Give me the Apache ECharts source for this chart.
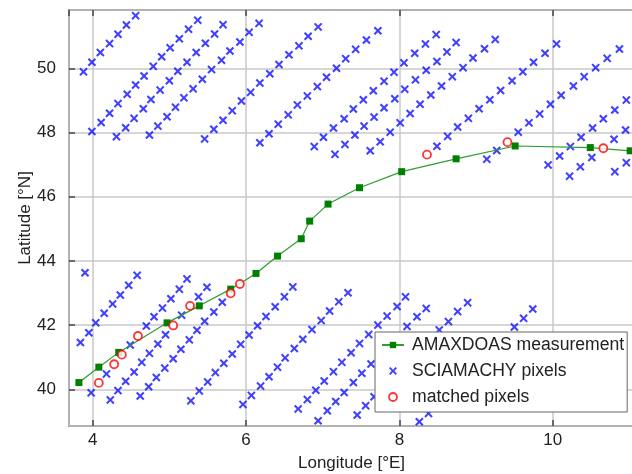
<!DOCTYPE html>
<html><head><meta charset="utf-8">
<script src="https://cdn.jsdelivr.net/npm/echarts@6/dist/echarts.min.js"></script>
<style>html,body{margin:0;padding:0;background:#fff}#c{width:632px;height:474px}</style>
</head><body><div id="c"></div><script>
// AMAXDOAS measurement track
const amaxLon = [3.82,4.08,4.34,4.97,5.39,5.80,6.13,6.41,6.72,6.83,7.07,7.48,8.03,8.74,9.51,10.49,11.01];
const amaxLat = [40.21,40.69,41.15,42.07,42.60,43.12,43.61,44.15,44.69,45.24,45.77,46.28,46.78,47.18,47.58,47.53,47.43];
// matched pixels
const matchedLon = [4.08,4.28,4.38,4.59,5.05,5.27,5.80,5.92,8.36,9.41,10.66];
const matchedLat = [40.20,40.78,41.08,41.66,41.99,42.60,42.99,43.28,47.31,47.70,47.51];
// SCIAMACHY pixels, one array per scan line [lon, lat]
const scanA = [[3.88,49.89],[3.99,50.19],[4.10,50.49],[4.22,50.77],[4.33,51.06],[4.44,51.35],[4.56,51.64]];
const scanB = [[3.99,48.03],[4.11,48.31],[4.22,48.60],[4.33,48.90],[4.45,49.19],[4.56,49.48],[4.67,49.76],[4.79,50.06],[4.90,50.36],[5.01,50.64],[5.13,50.92],[5.25,51.22],[5.37,51.50]];
const scanC = [[4.31,47.87],[4.43,48.15],[4.54,48.44],[4.66,48.74],[4.76,49.03],[4.88,49.32],[5.00,49.61],[5.11,49.91],[5.23,50.19],[5.35,50.49],[5.47,50.78],[5.59,51.07],[5.70,51.36]];
const scanD = [[4.74,47.92],[4.85,48.20],[4.97,48.49],[5.08,48.79],[5.19,49.08],[5.31,49.36],[5.43,49.66],[5.55,49.96],[5.68,50.25],[5.79,50.54],[5.92,50.82],[6.04,51.12],[6.17,51.40]];
const scanE = [[5.46,47.80],[5.58,48.10],[5.70,48.38],[5.82,48.68],[5.94,48.98],[6.06,49.25],[6.18,49.54],[6.31,49.83],[6.43,50.12],[6.56,50.42],[6.69,50.70],[6.81,51.00],[6.94,51.29]];
const scanF = [[6.18,47.68],[6.30,47.96],[6.42,48.26],[6.55,48.55],[6.67,48.86],[6.80,49.14],[6.93,49.43],[7.05,49.72],[7.18,50.00],[7.30,50.30],[7.43,50.59],[7.57,50.88],[7.72,51.17]];
const scanG = [[6.89,47.56],[7.01,47.85],[7.14,48.14],[7.28,48.43],[7.40,48.73],[7.53,49.02],[7.66,49.30],[7.80,49.60],[7.93,49.88],[8.06,50.17],[8.20,50.47],[8.34,50.76],[8.48,51.05]];
const scanH = [[7.16,47.32],[7.29,47.63],[7.42,47.92],[7.54,48.20],[7.67,48.48],[7.80,48.77],[7.94,49.05],[8.07,49.35],[8.21,49.64],[8.35,49.94],[8.49,50.21],[8.62,50.51],[8.74,50.80]];
const scanI = [[7.62,47.43],[7.75,47.71],[7.88,48.01],[8.01,48.30],[8.14,48.59],[8.27,48.88],[8.41,49.17],[8.55,49.45],[8.69,49.74],[8.83,50.02],[8.96,50.32],[9.11,50.61],[9.25,50.90]];
const scanJ = [[8.49,47.57],[8.63,47.88],[8.76,48.17],[8.90,48.44],[9.04,48.74],[9.18,49.02],[9.32,49.31],[9.47,49.61],[9.61,49.89],[9.75,50.19],[9.90,50.47],[10.05,50.76]];
const scanK = [[9.14,47.17],[9.27,47.44],[9.55,48.01],[9.69,48.30],[9.83,48.58],[9.97,48.88],[10.11,49.16],[10.27,49.45],[10.41,49.74],[10.56,50.02],[10.71,50.31],[10.87,50.60]];
const scanL = [[9.94,46.99],[10.09,47.27],[10.23,47.56],[10.37,47.85],[10.52,48.14],[10.66,48.43],[10.81,48.70],[10.96,49.01]];
const scanM = [[10.22,46.64],[10.36,46.93],[10.51,47.22],[10.80,47.79],[10.95,48.08]];
const scanN = [[10.81,46.78],[10.96,47.06]];
const scanLone = [[3.90,43.63]];
const scanP = [[3.84,41.46],[3.95,41.76],[4.04,42.07],[4.15,42.37],[4.26,42.66],[4.36,42.94],[4.47,43.24],[4.58,43.55]];
const scanQ = [[3.98,39.89],[4.18,40.48],[4.49,41.38],[4.70,41.97],[4.80,42.26],[4.91,42.53],[5.02,42.82],[5.13,43.12],[5.23,43.44]];
const scanR = [[4.23,39.67],[4.33,39.96],[4.43,40.25],[4.54,40.54],[4.64,40.84],[4.74,41.12],[4.85,41.41],[4.95,41.70],[5.16,42.31],[5.38,42.88],[5.49,43.18]];
const scanS = [[4.62,39.79],[4.73,40.08],[4.83,40.37],[4.94,40.66],[5.05,40.95],[5.15,41.25],[5.26,41.54],[5.36,41.84],[5.46,42.12],[5.58,42.41],[5.69,42.71]];
const scanT = [[5.28,39.64],[5.39,39.95],[5.50,40.23],[5.60,40.52],[5.71,40.81],[5.82,41.10],[5.93,41.40],[6.04,41.69],[6.15,41.98],[6.26,42.27],[6.38,42.57],[6.50,42.88],[6.61,43.19]];
const scanU = [[5.96,39.53],[6.07,39.81],[6.19,40.10],[6.30,40.39],[6.41,40.69],[6.51,40.98],[6.63,41.27],[6.74,41.56],[6.86,41.86],[6.98,42.14],[7.09,42.44],[7.21,42.73],[7.33,43.01]];
const scanV = [[6.68,39.39],[6.80,39.68],[6.91,39.97],[7.02,40.26],[7.14,40.55],[7.25,40.84],[7.37,41.14],[7.48,41.43],[7.60,41.71],[7.72,42.00],[7.84,42.28],[7.97,42.58],[8.08,42.88]];
const scanW = [[6.94,39.02],[7.06,39.33],[7.17,39.62],[7.28,39.90],[7.40,40.21],[7.51,40.50],[7.63,40.79],[8.10,41.96],[8.23,42.26],[8.35,42.52]];
const scanX = [[7.45,39.20],[7.56,39.49],[7.67,39.77],[8.52,41.85],[8.64,42.11],[8.76,42.42],[8.89,42.70]];
const scanY = [[8.26,38.99],[8.38,39.25],[9.50,41.94],[9.62,42.21],[9.74,42.50]];

const xMin = 3.691, xMax = 11.06;
const yMin = 38.857, yMax = 51.816;

const sciaData = [].concat(scanA,scanB,scanC,scanD,scanE,scanF,scanG,scanH,scanI,scanJ,scanK,scanL,scanM,scanN,
  scanLone,scanP,scanQ,scanR,scanS,scanT,scanU,scanV,scanW,scanX,scanY);
const amaxData = amaxLon.map((v,i)=>[v, amaxLat[i]]);
const matchedData = matchedLon.map((v,i)=>[v, matchedLat[i]]);

const FONT = 'Liberation Sans';
const TXT = '#222';
const crossPath = 'path://M0,1.7L1.7,0L5,3.3L8.3,0L10,1.7L6.7,5L10,8.3L8.3,10L5,6.7L1.7,10L0,8.3L3.3,5Z';
const tickStyle = {inside:true, length:6, lineStyle:{color:'#444', width:1.5}};

const chart = echarts.init(document.getElementById('c'), null, {renderer:'canvas'});
chart.setOption({
  animation:false,
  grid:{left:69, top:10, right:-2, bottom:48, show:true, borderColor:'#444', borderWidth:1.5,
        containLabel:false, outerBoundsMode:'none'},
  xAxis:[{
    type:'value', min:xMin, max:xMax, splitNumber:4,
    name:'Longitude [°E]', nameLocation:'middle', nameGap:29, nameMoveOverlap:false,
    nameTextStyle:{fontFamily:FONT, fontSize:17, color:TXT},
    axisLine:{show:false}, axisTick:tickStyle,
    axisLabel:{showMinLabel:false, showMaxLabel:false, fontFamily:FONT, fontSize:17, color:TXT, margin:6},
    splitLine:{show:true, lineStyle:{color:'#c8c8c8', width:1.5}}
  },{
    type:'value', position:'top', min:xMin, max:xMax, splitNumber:4,
    axisLine:{show:false}, axisTick:tickStyle, axisLabel:{show:false}, splitLine:{show:false}
  }],
  yAxis:[{
    type:'value', min:yMin, max:yMax, splitNumber:6,
    name:'Latitude [°N]', nameLocation:'middle', nameGap:35, nameMoveOverlap:false,
    nameTextStyle:{fontFamily:FONT, fontSize:17, color:TXT},
    axisLine:{show:false}, axisTick:tickStyle,
    axisLabel:{showMinLabel:false, showMaxLabel:false, fontFamily:FONT, fontSize:17, color:TXT, margin:13},
    splitLine:{show:true, lineStyle:{color:'#c8c8c8', width:1.5}}
  }],
  legend:{
    orient:'vertical', left:375, top:332, padding:[3,3,5,6], itemGap:6,
    itemWidth:22, itemHeight:8,
    backgroundColor:'#fff', borderColor:'#666', borderWidth:1,
    textStyle:{fontFamily:FONT, fontSize:17.6, color:TXT, lineHeight:20, padding:[0,0,0,3]},
    data:[
      {name:'AMAXDOAS measurement'},
      {name:'SCIAMACHY pixels'},
      {name:'matched pixels', itemStyle:{color:'#fff', borderColor:'#ff0000', borderWidth:1.8}}
    ]
  },
  series:[
    {
      name:'SCIAMACHY pixels', type:'scatter', data:sciaData, z:2,
      symbol:crossPath, symbolSize:8.5, symbolKeepAspect:true,
      itemStyle:{color:'#1010ff'}, emphasis:{disabled:true}
    },
    {
      name:'AMAXDOAS measurement', type:'line', data:amaxData, z:3,
      symbol:'rect', symbolSize:7, showAllSymbol:true,
      lineStyle:{color:'#2f9e2f', width:1.2},
      itemStyle:{color:'#008000'}, emphasis:{disabled:true}
    },
    {
      name:'matched pixels', type:'scatter', data:matchedData, z:4,
      symbol:'circle', symbolSize:8,
      itemStyle:{color:'#fff', borderColor:'#ff0000', borderWidth:1.8}, emphasis:{disabled:true}
    }
  ]
});
</script></body></html>
